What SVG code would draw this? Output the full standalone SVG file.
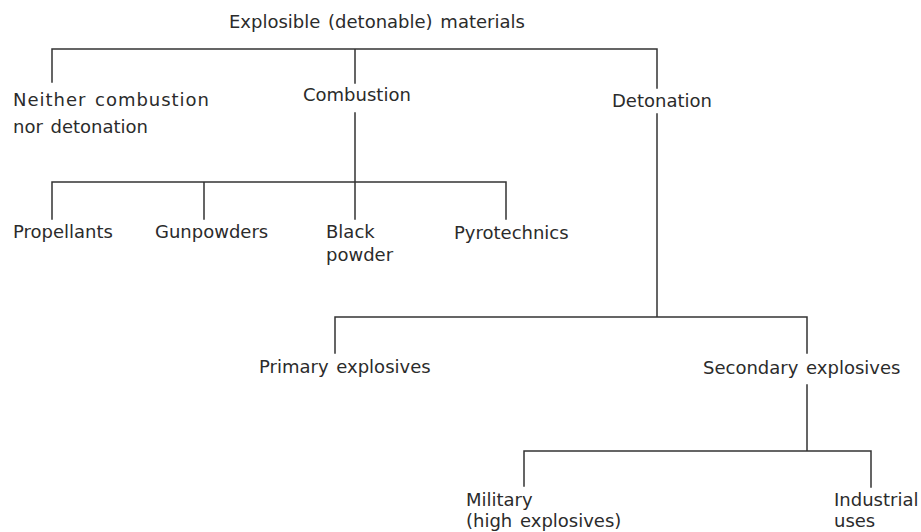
<svg xmlns="http://www.w3.org/2000/svg" width="921" height="532" viewBox="0 0 921 532">
<style>
.t{font-family:"DejaVu Sans","Liberation Sans",sans-serif;font-size:18px;fill:#2b2b2b;word-spacing:2px}
.c{fill:none;stroke:#333;stroke-width:1.5;stroke-linecap:square}
</style>
<rect width="921" height="532" fill="#fff"/>
<g id="connectors">
<path class="c" d="M52,82 V49 H657 V88 M355,49 V83"/>
<path class="c" d="M355,113 V219 M52,219 V182 H506 V219 M204,182 V219"/>
<path class="c" d="M657,114 V317 M335,353 V317 H807 V353"/>
<path class="c" d="M807,385 V451 M524,486 V451 H871 V487"/>
</g>
<g id="root"><text class="t" x="229" y="28">Explosible (detonable) materials</text></g>
<g id="neither"><text class="t" x="13" y="106" textLength="196">Neither combustion</text><text class="t" x="13" y="133">nor detonation</text></g>
<g id="combustion"><text class="t" x="303" y="101">Combustion</text></g>
<g id="detonation"><text class="t" x="612" y="107">Detonation</text></g>
<g id="propellants"><text class="t" x="13" y="238">Propellants</text></g>
<g id="gunpowders"><text class="t" x="155" y="238">Gunpowders</text></g>
<g id="blackpowder"><text class="t" x="326" y="238">Black</text><text class="t" x="326" y="261">powder</text></g>
<g id="pyrotechnics"><text class="t" x="454" y="239">Pyrotechnics</text></g>
<g id="primary"><text class="t" x="259" y="373">Primary explosives</text></g>
<g id="secondary"><text class="t" x="703" y="374">Secondary explosives</text></g>
<g id="military"><text class="t" x="466" y="506">Military</text><text class="t" x="466" y="527">(high explosives)</text></g>
<g id="industrial"><text class="t" x="834" y="506">Industrial</text><text class="t" x="834" y="527">uses</text></g>
</svg>
